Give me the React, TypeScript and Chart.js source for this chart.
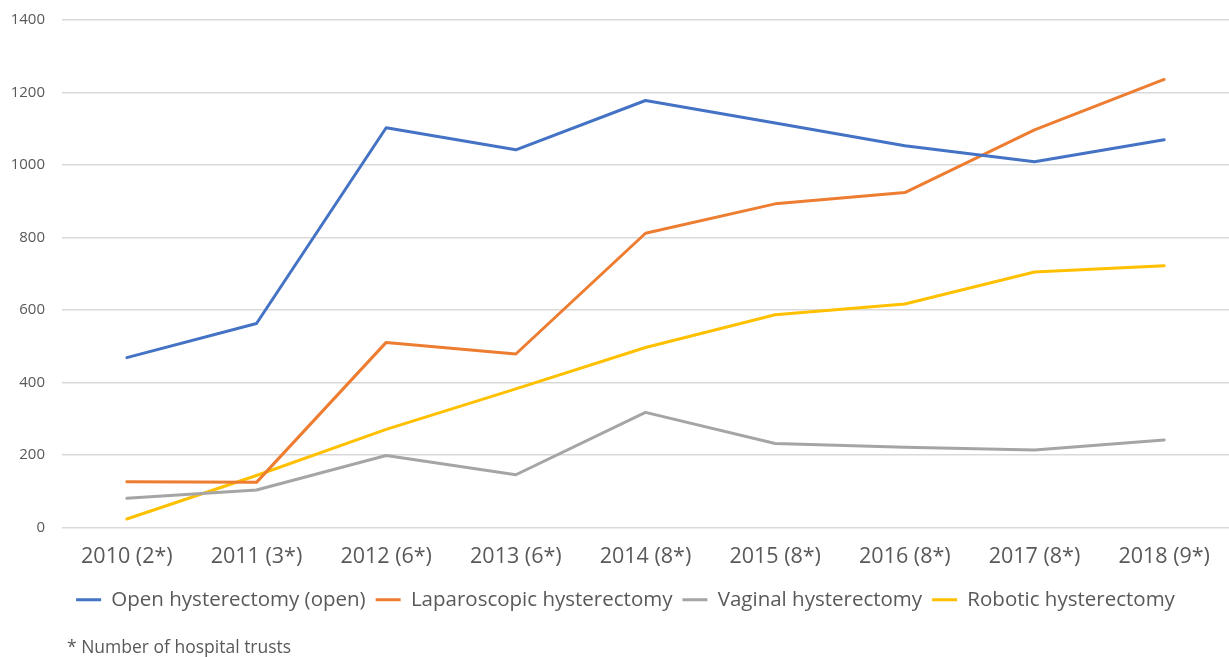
import React, { useEffect, useRef } from "react";
import { Chart, registerables } from "chart.js";

Chart.register(...registerables);

const categories = [
  "2010 (2*)", "2011 (3*)", "2012 (6*)", "2013 (6*)", "2014 (8*)",
  "2015 (8*)", "2016 (8*)", "2017 (8*)", "2018 (9*)",
];
const openValues = [469, 563, 1103, 1042, 1178, 1116, 1053, 1009, 1070];
const laparoscopicValues = [127, 125, 511, 479, 812, 893, 924, 1097, 1236];
const vaginalValues = [81, 104, 199, 146, 318, 232, 222, 214, 242];
const roboticValues = [24, 144, 271, 383, 497, 587, 617, 705, 722];
const seriesNames = [
  "Open hysterectomy (open)",
  "Laparoscopic hysterectomy",
  "Vaginal hysterectomy",
  "Robotic hysterectomy",
];
const seriesColors = ["#4472C4", "#ED7D31", "#A5A5A5", "#FFC000"];
const yTicks = [0, 200, 400, 600, 800, 1000, 1200, 1400];
const footnote = "* Number of hospital trusts";

const shiftBoxes = {
  id: "shiftBoxes",
  afterLayout(chart: any) {
    if (chart.legend) chart.legend.left = 22;
    if (chart.titleBlock) {
      chart.titleBlock.left += 5;
      chart.titleBlock.right += 5;
    }
  },
};

export default function App() {
  const ref = useRef<HTMLCanvasElement | null>(null);

  useEffect(() => {
    document.body.style.margin = "0";
    const canvas = ref.current;
    if (!canvas) return;
    const seriesValues = [openValues, laparoscopicValues, vaginalValues, roboticValues];
    const chart = new Chart(canvas, {
      type: "line",
      data: {
        labels: categories,
        datasets: seriesValues.map((vals, i) => ({
          label: seriesNames[i],
          data: vals,
          borderColor: seriesColors[i],
          backgroundColor: seriesColors[i],
          borderWidth: 3,
          pointRadius: 0,
          pointHoverRadius: 0,
          tension: 0,
          borderJoinStyle: "round" as const,
          borderCapStyle: "round" as const,
          fill: false,
        })),
      },
      plugins: [shiftBoxes],
      options: {
        responsive: false,
        animation: false,
        devicePixelRatio: 1,
        font: { family: "'Open Sans', sans-serif" },
        layout: { padding: { top: 20, left: 0, right: 0, bottom: 0 } },
        scales: {
          x: {
            offset: true,
            grid: { display: false, drawTicks: false },
            border: { display: false },
            ticks: {
              color: "#595959",
              font: { size: 21.5, family: "'Open Sans', sans-serif" },
              padding: 16,
              maxRotation: 0,
              autoSkip: false,
            },
            afterFit: (scale: any) => {
              scale.height -= 6;
            },
          },
          y: {
            min: yTicks[0],
            max: yTicks[yTicks.length - 1],
            afterBuildTicks: (scale: any) => {
              scale.ticks = yTicks.map((v) => ({ value: v }));
            },
            grid: { color: "#D9D9D9", lineWidth: 1.5, drawTicks: false },
            border: { display: false },
            ticks: {
              color: "#595959",
              font: { size: 15, family: "'Open Sans', sans-serif" },
              padding: 17,
              callback: (v: any) => String(v),
            },
            afterFit: (scale: any) => {
              scale.width = 62;
              scale.paddingTop = 0;
              scale.paddingBottom = 0;
            },
          },
        },
        plugins: {
          legend: {
            position: "bottom",
            labels: {
              usePointStyle: true,
              pointStyle: "line",
              pointStyleWidth: 25,
              padding: 10,
              color: "#595959",
              font: { size: 20.5, family: "'Open Sans', sans-serif" },
            },
          },
          title: {
            display: true,
            text: footnote,
            position: "bottom",
            align: "start",
            fullSize: false,
            color: "#595959",
            font: { size: 17.5, weight: "normal", family: "'Open Sans', sans-serif" },
            padding: { top: 18, bottom: -2 },
          },
          tooltip: { enabled: false },
        },
      },
    });
    return () => chart.destroy();
  }, []);

  return (
    <div style={{ width: 1229, height: 657 }}>
      <canvas ref={ref} width={1229} height={657} style={{ display: "block" }} />
    </div>
  );
}
